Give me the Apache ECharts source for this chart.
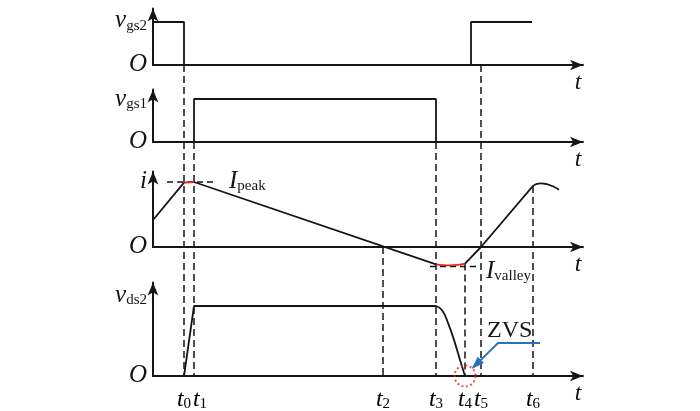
<!DOCTYPE html>
<html>
<head>
<meta charset="utf-8">
<script src="https://cdn.jsdelivr.net/npm/echarts@6/dist/echarts.min.js"></script>
<style>html,body{margin:0;padding:0;background:#fff}#main{width:700px;height:411px}</style>
</head>
<body>
<div id="main"></div>
<script>
/* time marks t0..t6, same time scale on every panel */
var tNames = ['0', '1', '2', '3', '4', '5', '6'];
var tMarks = [31, 41, 230, 283, 312, 328, 380];
/* panel where each dashed marker starts, and the value it starts from */
var tStartPanel = [0, 1, 2, 1, 2, 0, 2];
var tStartVal = [0, 0, 0, 0, -0.255, 0, 0.94];

/* waveforms */
var vgs2A = [[0, 1], [31, 1], [31, 0]];
var vgs2B = [[318, 0], [318, 1], [379, 1]];
var vgs1 = [[41, 0], [41, 1], [283, 1], [283, 0]];
var iRise = [[0, 0.415], [31, 0.99]];
var iPeakArc = [[31, 0.99], [36, 0.996], [41, 1]];
var iFall = [[41, 1], [283, -0.266]];
var iValleyArc = [[283, -0.266], [290, -0.278], [297, -0.282], [305, -0.275], [312, -0.255]];
var iRise2 = [[312, -0.255], [328, 0], [380, 0.94]];
var iTop2 = [[380, 0.94], [384, 0.972], [388, 0.98], [406, 0.88]];
var vds2 = [[31, 0], [41, 1], [283, 1]];
var vds2Fall = [[283, 1], [289, 0.94], [295, 0.76], [302, 0.47], [307, 0.23], [312, 0]];
var iPeakRef = [[14, 1], [64, 1]];
var iValleyRef = [[277, -0.3], [327, -0.3]];

/* y labels: value where they sit, main letter, subscript */
var yLabelVals = [[0, 1.02], [0, 0.98], [0, 1], [0, 1.15]];
var yLabelMain = ['v', 'v', 'i', 'v'];
var yLabelSub = ['gs2', 'gs1', '', 'ds2'];

/* ZVS note */
var zvsArrow = [[387, 0.47], [345, 0.47], [320, 0.12]];
var zvsText = [334, 0.64];
var zvsMark = [[312, 0]];

/* layout */
var gridTop = [8.5, 89.5, 171.5, 282.5];
var gridBase = [65, 142, 247, 376];
var unitPx = [43, 43, 65, 70];

var serif = '"Liberation Serif", "DejaVu Serif", serif';
var ink = '#151515';
var rich = {
  it: {fontFamily: serif, fontStyle: 'italic', fontSize: 25, lineHeight: 24, color: ink, verticalAlign: 'bottom'},
  tt: {fontFamily: serif, fontStyle: 'italic', fontSize: 24, lineHeight: 24, color: ink, verticalAlign: 'bottom'},
  sub: {fontFamily: serif, fontSize: 15, lineHeight: 11, color: ink, verticalAlign: 'bottom'}
};

var chart = echarts.init(document.getElementById('main'));

var grids = [], xAxes = [], yAxes = [];
for (var k = 0; k < 4; k++) {
  grids.push({left: 153, right: 117, top: gridTop[k], height: gridBase[k] - gridTop[k]});
  xAxes.push({
    type: 'value', gridIndex: k, min: 0, max: 430,
    axisLine: {onZero: false, symbol: ['none', 'arrow'], symbolSize: [8, 13], lineStyle: {color: ink, width: 2}},
    axisTick: {show: false},
    splitLine: {show: false},
    axisLabel: {show: false},
    name: 't', nameLocation: 'end', nameGap: -5,
    nameTextStyle: {fontFamily: serif, fontStyle: 'italic', fontSize: 24, lineHeight: 22, color: ink,
      align: 'center', verticalAlign: 'top', padding: [7, 0, 0, 0]}
  });
  (function (k) {
    yAxes.push({
      type: 'value', gridIndex: k, min: 0, max: (gridBase[k] - gridTop[k]) / unitPx[k],
      axisLine: {symbol: ['none', 'arrow'], symbolSize: [8, 13], lineStyle: {color: ink, width: 2}},
      axisTick: {show: false},
      splitLine: {show: false},
      axisLabel: {
        customValues: yLabelVals[k], margin: 6, rich: rich, hideOverlap: false,
        formatter: function (v) {
          if (v === 0) return '{it|O}';
          return '{it|' + yLabelMain[k] + '}' + (yLabelSub[k] ? '{sub|' + yLabelSub[k] + '}' : '');
        }
      }
    });
  })(k);
}

function wave(k, data, color, extra) {
  var s = {
    type: 'line', xAxisIndex: k, yAxisIndex: k, data: data, showSymbol: false, clip: false,
    lineStyle: {color: color || ink, width: 1.8}, z: 3
  };
  if (extra) for (var key in extra) s[key] = extra[key];
  return s;
}

var series = [
  wave(0, vgs2A), wave(0, vgs2B),
  wave(1, vgs1),
  wave(2, iRise), wave(2, iPeakArc, '#e3241b', {smooth: true, z: 4}), wave(2, iFall),
  wave(2, iValleyArc, '#e3241b', {smooth: true, z: 4}), wave(2, iRise2), wave(2, iTop2, null, {smooth: true}),
  wave(2, iPeakRef, null, {
    lineStyle: {color: ink, width: 1.5, type: [6, 4]},
    endLabel: {show: true, distance: 12, formatter: '{it|I}{sub|peak}', rich: rich}
  }),
  wave(2, iValleyRef, null, {
    lineStyle: {color: ink, width: 1.5, type: [6, 4]},
    endLabel: {show: true, distance: 6, offset: [0, 5], formatter: '{it|I}{sub|valley}', rich: rich}
  }),
  wave(3, vds2), wave(3, vds2Fall, null, {smooth: true}),
  {
    type: 'scatter', xAxisIndex: 3, yAxisIndex: 3, data: zvsMark, symbol: 'circle', symbolSize: 21, clip: false, z: 6,
    itemStyle: {color: 'rgba(0,0,0,0)', borderColor: '#e3241b', borderWidth: 2, borderType: [2, 2.5]}
  }
];

chart.setOption({
  animation: false,
  backgroundColor: '#fff',
  grid: grids, xAxis: xAxes, yAxis: yAxes, series: series
});

/* dashed time markers, their t labels and the ZVS note, placed through the axes */
var gfx = [];
for (var j = 0; j < tMarks.length; j++) {
  var p1 = chart.convertToPixel({gridIndex: tStartPanel[j]}, [tMarks[j], tStartVal[j]]);
  var p2 = chart.convertToPixel({gridIndex: 3}, [tMarks[j], 0]);
  gfx.push({type: 'line', z: 2, shape: {x1: p1[0], y1: p1[1], x2: p2[0], y2: p2[1]},
    style: {stroke: ink, lineWidth: 1.5, lineDash: [7, 4]}});
  // t1 sits a little right so it clears t0
  gfx.push({type: 'text', z: 7, x: p2[0] + (j == 1 ? 6 : 0), y: p2[1] + 12,
    style: {text: '{tt|t}{sub|' + tNames[j] + '}', rich: rich, align: 'center', verticalAlign: 'top'}});
}
var pts = zvsArrow.map(function (p) { return chart.convertToPixel({gridIndex: 3}, p); });
gfx.push({type: 'polyline', z: 7, shape: {points: pts}, style: {stroke: '#2b73b8', lineWidth: 2, fill: null}});
var tip = pts[2], prev = pts[1];
var dx = tip[0] - prev[0], dy = tip[1] - prev[1], len = Math.sqrt(dx * dx + dy * dy);
var ux = dx / len, uy = dy / len, hl = 11, hw = 4.5;
gfx.push({type: 'polygon', z: 7, shape: {points: [
  [tip[0] + ux * 2, tip[1] + uy * 2],
  [tip[0] - ux * hl - uy * hw, tip[1] - uy * hl + ux * hw],
  [tip[0] - ux * hl + uy * hw, tip[1] - uy * hl - ux * hw]
]}, style: {fill: '#2b73b8'}});
var zp = chart.convertToPixel({gridIndex: 3}, zvsText);
gfx.push({type: 'text', z: 7, x: zp[0], y: zp[1], style: {text: 'ZVS', fill: ink,
  font: '24px ' + serif, verticalAlign: 'middle', align: 'left'}});
chart.setOption({graphic: gfx});
</script>
</body>
</html>
